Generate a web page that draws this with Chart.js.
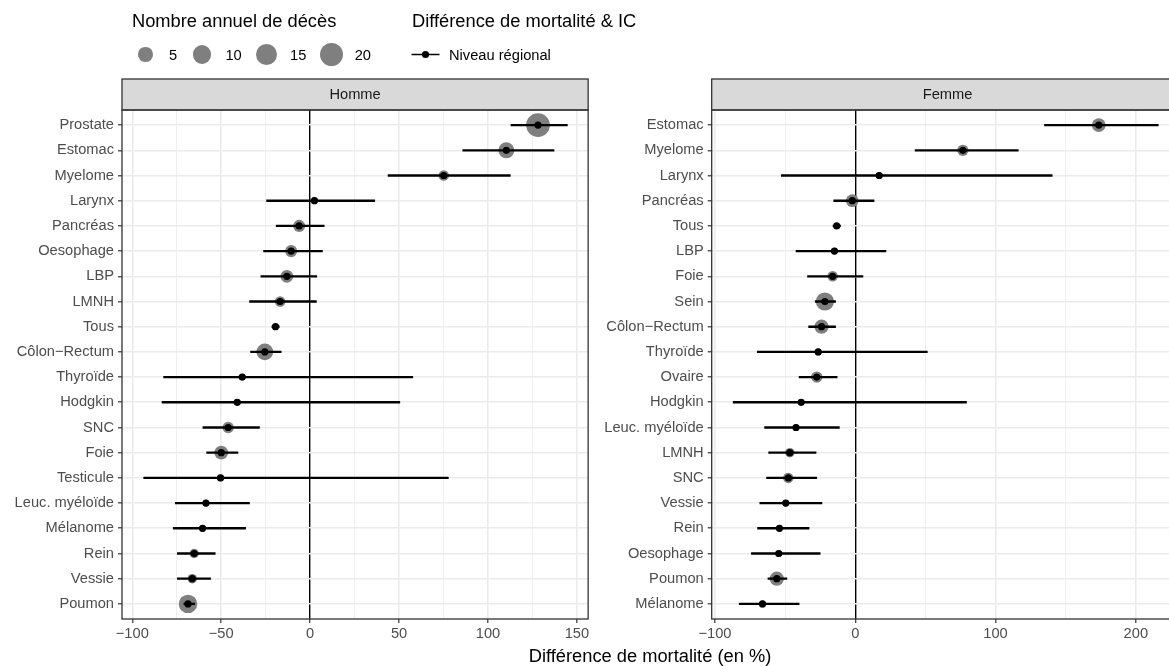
<!DOCTYPE html>
<html>
<head>
<meta charset="utf-8">
<script src="https://cdn.jsdelivr.net/npm/chart.js"></script>
<style>
  body { margin: 0; width: 1169px; height: 666px; overflow: hidden; background: #fff; position: relative;
         font-family: "Liberation Sans", Arial, sans-serif; }
  canvas { position: absolute; top: 0; }
  .ltitle { position: absolute; top: 10px; font-size: 18.3px; line-height: 21px; color: #000; white-space: nowrap; }
  .lrow { position: absolute; top: 42px; height: 25px; display: flex; align-items: center; font-size: 14.67px; color: #000; white-space: nowrap; }
  .key { width: 27px; height: 25px; display: flex; align-items: center; justify-content: center; }
  .key span { display: block; border-radius: 50%; background: #7f7f7f; }
  .klab { margin-left: 10px; margin-right: 11.3px; }
  #xtitle { position: absolute; left: 400px; width: 500px; top: 645px; text-align: center; font-size: 18.3px; line-height: 21px; color: #000; }
</style>
</head>
<body>
<canvas id="homme" width="600" height="666" style="left:0"></canvas>
<canvas id="femme" width="600" height="666" style="left:600px"></canvas>

<div class="ltitle" style="left:132px">Nombre annuel de décès</div>
<div class="lrow" id="sizeKeys" style="left:132px"></div>
<div class="ltitle" style="left:412px">Différence de mortalité &amp; IC</div>
<div class="lrow" style="left:411px">
  <svg width="29" height="25"><line x1="0.5" y1="12.5" x2="28.5" y2="12.5" stroke="#000" stroke-width="1.5"/><circle cx="14.5" cy="12.5" r="3.6" fill="#000"/></svg>
  <span style="margin-left:9px">Niveau régional</span>
</div>
<div id="xtitle">Différence de mortalité (en %)</div>

<script>
// Homme
const hommeCancers = ['Prostate', 'Estomac', 'Myelome', 'Larynx', 'Pancréas', 'Oesophage', 'LBP', 'LMNH', 'Tous',
  'Côlon\u2212Rectum', 'Thyroïde', 'Hodgkin', 'SNC', 'Foie', 'Testicule', 'Leuc. myéloïde', 'Mélanome', 'Rein', 'Vessie', 'Poumon'];
const hommeDiff = [128.1, 110.3, 75.1, 2.4, -6.2, -10.7, -13.1, -16.9, -19.5, -25.5, -38.2, -41, -46.1, -50, -50.4, -58.6, -60.5, -65.2, -66.3, -68.7];
const hommeLow = [112.9, 85.8, 43.8, -24.5, -19.1, -26.2, -27.7, -34.1, -21.5, -33.5, -82.4, -83.3, -60.3, -58.2, -93.6, -75.8, -77, -74.7, -74.7, -71];
const hommeHigh = [144.6, 137.1, 112.5, 36.3, 7.9, 6.9, 3.7, 3.5, -17.4, -16.3, 57.7, 50.4, -28.5, -40.6, 77.7, -34.1, -36.3, -53.4, -56, -65];
const hommeDeces = [21, 7, 2, 1, 3, 3, 3.5, 2, null, 8, 1, 1, 2.5, 4.5, 1, 1, 1, 1.5, 1.5, 10.5];

// Femme
const femmeCancers = ['Estomac', 'Myelome', 'Larynx', 'Pancréas', 'Tous', 'LBP', 'Foie', 'Sein', 'Côlon\u2212Rectum', 'Thyroïde',
  'Ovaire', 'Hodgkin', 'Leuc. myéloïde', 'LMNH', 'SNC', 'Vessie', 'Rein', 'Oesophage', 'Poumon', 'Mélanome'];
const femmeDiff = [173.6, 76.7, 17.1, -2.1, -13.2, -14.8, -16.1, -21.6, -24, -26.4, -27.4, -38.5, -42.2, -46.6, -47.7, -49.5, -54, -54.5, -55.9, -66.1];
const femmeLow = [134.9, 42.7, -52.7, -15.3, -15.8, -42.2, -34, -28.5, -33.2, -69.8, -40, -87, -64.6, -61.7, -63.2, -68, -69.6, -74, -62.2, -82.7];
const femmeHigh = [216, 116.2, 140.4, 13.4, -10.5, 21.9, 5.5, -14, -14, 51.4, -12.9, 79.3, -11.3, -27.9, -27.4, -23.7, -32.9, -25, -48.7, -40];
const femmeDeces = [4.5, 2.5, 1, 3.5, null, 1, 2, 10, 5, 1, 2.5, 1, 1, 1.5, 2, 1, 1, 1, 5, 1];

const sizeBreaks = [5, 10, 15, 20];

const minus = v => (v < 0 ? '\u2212' + Math.abs(v) : String(v));
// area scale like ggplot: diameter grows with sqrt of count
function diam(n) { return 6.7 + 17 * Math.sqrt(Math.max(0, n - 1) / 20); }

const keys = document.getElementById('sizeKeys');
sizeBreaks.forEach(b => {
  const d = diam(b);
  keys.insertAdjacentHTML('beforeend',
    '<div class="key"><span style="width:' + d + 'px;height:' + d + 'px"></span></div><span class="klab">' + b + '</span>');
});

const stripPlugin = {
  id: 'strip',
  afterDraw(chart, args, opts) {
    const a = chart.chartArea, ctx = chart.ctx;
    ctx.save();
    ctx.fillStyle = '#d9d9d9';
    ctx.fillRect(a.left, a.top - 31, a.right - a.left, 31);
    ctx.strokeStyle = '#333';
    ctx.lineWidth = 1.3;
    ctx.strokeRect(a.left, a.top - 31, a.right - a.left, 31);
    ctx.strokeRect(a.left, a.top, a.right - a.left, a.bottom - a.top);
    ctx.fillStyle = '#1a1a1a';
    ctx.font = '14.67px "Liberation Sans"';
    ctx.textAlign = 'center';
    ctx.textBaseline = 'middle';
    ctx.fillText(opts.text, (a.left + a.right) / 2, a.top - 15.5);
    ctx.restore();
  }
};

function makePanel(id, title, cats, diff, low, high, deces, xmin, xmax, major, yWidth, padRight) {
  const isMajor = v => Math.abs(v % major) < 1e-9;
  new Chart(document.getElementById(id), {
    type: 'scatter',
    data: {
      datasets: [
        {
          type: 'scatter',
          data: diff.map((v, i) => ({ x: v, y: i })),
          backgroundColor: '#000', borderWidth: 0, pointRadius: 3.6, order: 0
        },
        {
          type: 'bar', indexAxis: 'y',
          data: low.map((v, i) => ({ x: [v, high[i]], y: i })),
          backgroundColor: '#000', borderWidth: 0, barThickness: 1.7, order: 1
        },
        {
          type: 'bubble',
          data: diff.map((v, i) => (deces[i] == null ? null : { x: v, y: i, r: diam(deces[i]) / 2 })).filter(p => p),
          backgroundColor: '#7f7f7f', borderWidth: 0, order: 2
        }
      ]
    },
    options: {
      responsive: false, animation: false, events: [],
      layout: { padding: { top: 110, right: padRight, left: 0, bottom: 0 } },
      plugins: { legend: { display: false }, tooltip: { enabled: false }, strip: { text: title } },
      scales: {
        x: {
          type: 'linear', min: xmin, max: xmax, offset: false,
          border: { display: false },
          ticks: {
            stepSize: major / 2, includeBounds: false, autoSkip: false, maxRotation: 0, padding: 2,
            color: '#4d4d4d', font: { family: 'Liberation Sans', size: 14.67 },
            callback: v => (isMajor(v) ? minus(v) : '')
          },
          grid: {
            offset: false,
            color: c => (c.tick && c.tick.value === 0 ? '#000' : '#ebebeb'),
            lineWidth: c => (c.tick && c.tick.value === 0 ? 1.4 : (c.tick && isMajor(c.tick.value) ? 1.6 : 0.8)),
            tickColor: c => (c.tick && isMajor(c.tick.value) ? '#333' : 'rgba(0,0,0,0)'),
            tickWidth: 1.2, tickLength: 4
          },
          afterFit: s => { s.height = 47; }
        },
        y: {
          type: 'linear', reverse: true, min: -0.6, max: cats.length - 0.4, offset: false,
          border: { display: false },
          ticks: {
            stepSize: 1, includeBounds: false, autoSkip: false, padding: 4,
            color: '#4d4d4d', font: { family: 'Liberation Sans', size: 14.67 },
            callback: v => (cats[v] !== undefined ? cats[v] : '')
          },
          grid: { offset: false, color: '#ebebeb', lineWidth: 1.6, tickColor: '#333', tickWidth: 1.2, tickLength: 4 },
          afterFit: s => { s.width = yWidth; }
        }
      }
    },
    plugins: [stripPlugin]
  });
}

makePanel('homme', 'Homme', hommeCancers, hommeDiff, hommeLow, hommeHigh, hommeDeces, -105.8, 156.3, 50, 122, 11);
makePanel('femme', 'Femme', femmeCancers, femmeDiff, femmeLow, femmeHigh, femmeDeces, -102.3, 234, 100, 111.7, 16.5);
</script>
</body>
</html>
